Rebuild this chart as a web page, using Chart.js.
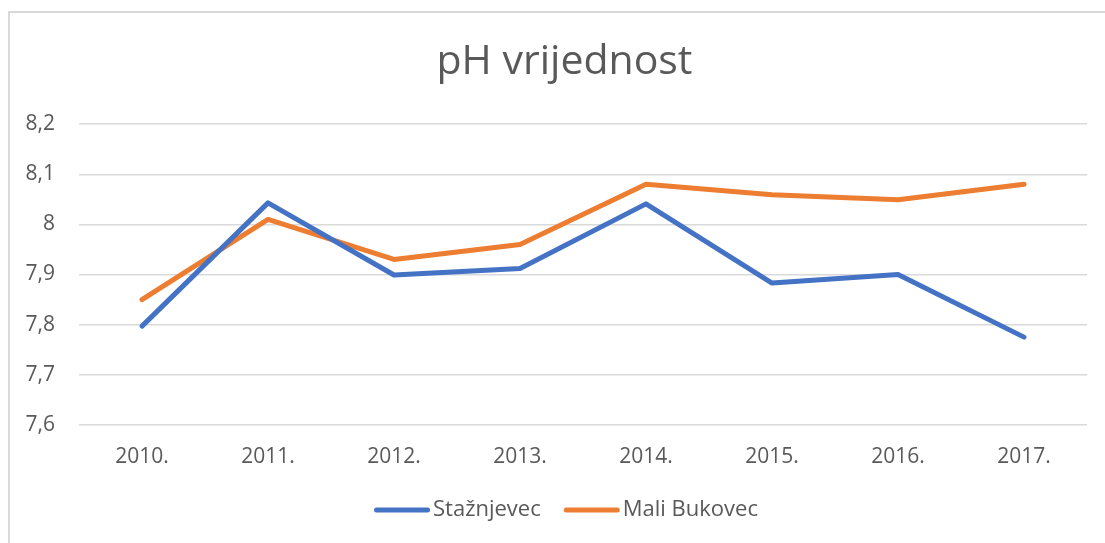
<!DOCTYPE html>
<html>
<head>
<meta charset="utf-8">
<script src="https://cdn.jsdelivr.net/npm/chart.js@4/dist/chart.umd.min.js"></script>
<style>
  html, body { margin: 0; padding: 0; background: #fff; }
  #okvir { position: relative; width: 1105px; height: 543px; overflow: hidden; }
  #rub { position: absolute; left: 8px; top: 11px; width: 1200px; height: 600px;
         border-left: 2px solid #d9d9d9; border-top: 2px solid #d9d9d9; }
  #graf { position: absolute; left: 0; top: 0; }
</style>
</head>
<body>
<div id="okvir">
  <div id="rub"></div>
  <canvas id="graf" width="1105" height="543"></canvas>
</div>
<script>
// Podaci očitani s grafikona
const godine = ['2010.', '2011.', '2012.', '2013.', '2014.', '2015.', '2016.', '2017.'];
const staznjevec = [7.797, 8.043, 7.899, 7.912, 8.041, 7.883, 7.900, 7.775];
const maliBukovec = [7.850, 8.010, 7.930, 7.960, 8.080, 8.059, 8.049, 8.080];
const yTicks = [7.6, 7.7, 7.8, 7.9, 8.0, 8.1, 8.2];

const siva = '#595959';
const font = "'Open Sans', 'Noto Sans', sans-serif";

function formatZarez(v) {
    return String(Math.round(v * 10) / 10).replace('.', ',');
}

// Legenda kao u Excelu: crta, mali razmak, tekst
const legendaPlugin = {
    id: 'legenda',
    afterLayout(chart) {
        // naslov je pomaknut desno (padding lijevo), a oznake osi y neka se ne odrežu
        chart.scales.y.left = 0;
    },
    afterDraw(chart) {
        const c = chart.ctx;
        const crta = 56, razmak = 3, izmedju = 23;
        const sredina = 566, y = 510;
        c.save();
        c.font = "22px " + font;
        c.textBaseline = 'middle';
        const stavke = chart.data.datasets.map(ds => ({
            text: ds.label, color: ds.borderColor, w: c.measureText(ds.label).width
        }));
        let ukupno = 0;
        stavke.forEach((s, i) => { ukupno += crta + razmak + s.w + (i > 0 ? izmedju : 0); });
        let x = sredina - ukupno / 2;
        stavke.forEach((s, i) => {
            if (i > 0) x += izmedju;
            c.strokeStyle = s.color;
            c.lineWidth = 5;
            c.lineCap = 'round';
            c.beginPath();
            c.moveTo(x + 2.5, y);
            c.lineTo(x + crta - 2.5, y);
            c.stroke();
            x += crta + razmak;
            c.fillStyle = siva;
            c.fillText(s.text, x, y);
            x += s.w;
        });
        c.restore();
    }
};

const ctx = document.getElementById('graf').getContext('2d');
const chart = new Chart(ctx, {
    type: 'line',
    data: {
        labels: godine,
        datasets: [{
            label: 'Stažnjevec',
            data: staznjevec,
            borderColor: '#4472C4',
            backgroundColor: '#4472C4',
            borderWidth: 5,
            borderCapStyle: 'round',
            borderJoinStyle: 'round',
            pointRadius: 0,
            tension: 0,
            fill: false
        }, {
            label: 'Mali Bukovec',
            data: maliBukovec,
            borderColor: '#ED7D31',
            backgroundColor: '#ED7D31',
            borderWidth: 5,
            borderCapStyle: 'round',
            borderJoinStyle: 'round',
            pointRadius: 0,
            tension: 0,
            fill: false
        }]
    },
    plugins: [legendaPlugin],
    options: {
        responsive: false,
        animation: false,
        layout: { padding: { left: 42, right: 18, top: 0, bottom: 53 } },
        plugins: {
            title: {
                display: true,
                text: 'pH vrijednost',
                color: siva,
                font: { family: font, size: 41, weight: 'normal' },
                padding: { top: 38, bottom: 37 }
            },
            legend: { display: false },
            tooltip: { enabled: false }
        },
        scales: {
            x: {
                offset: true,
                grid: { display: false, drawTicks: false },
                border: { display: false },
                ticks: {
                    color: siva,
                    font: { family: font, size: 21 },
                    padding: 20,
                    maxRotation: 0
                }
            },
            y: {
                min: 7.6,
                max: 8.2,
                afterFit: (scale) => { scale.width = 37; },
                afterBuildTicks: (scale) => { scale.ticks = yTicks.map(v => ({ value: v })); },
                grid: { color: '#d9d9d9', lineWidth: 1.5, drawTicks: false },
                border: { display: false },
                ticks: {
                    color: siva,
                    font: { family: font, size: 21 },
                    padding: 24,
                    callback: (v) => formatZarez(v)
                }
            }
        }
    }
});
</script>
</body>
</html>
